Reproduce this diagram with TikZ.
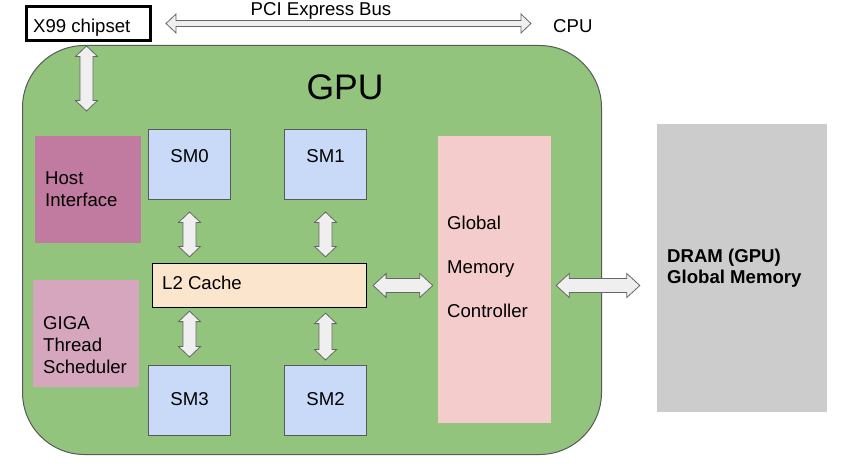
\documentclass[tikz,border=0pt]{standalone}
\usepackage{fontspec}
\setmainfont{Liberation Sans}
\usetikzlibrary{calc}
\definecolor{gpugreen}{HTML}{93C47D}
\definecolor{gpuline}{HTML}{595959}
\definecolor{hostc}{HTML}{C27BA0}
\definecolor{gigac}{HTML}{D5A6BD}
\definecolor{smc}{HTML}{C9DAF8}
\definecolor{l2c}{HTML}{FCE5CD}
\definecolor{gmcc}{HTML}{F4CCCC}
\definecolor{dramc}{HTML}{CCCCCC}
\definecolor{arrfill}{HTML}{EFEFEF}
\definecolor{arrline}{HTML}{666666}
\tikzset{
  txt/.style={font=\fontsize{18.6}{22}\selectfont, inner sep=0pt, text=black},
  plainbox/.style={rectangle, inner sep=0pt, draw=none},
  smbox/.style={plainbox, fill=smc, draw=gpuline, line width=1pt, minimum width=82, minimum height=70},
  blockarrow/.style n args={3}{fill=arrfill, draw=arrline, line width=0.8pt, line join=miter,
    to path={
      -- ($(\tikztostart)!#3!(\tikztotarget)!#1!90:(\tikztotarget)$)
      -- ($(\tikztostart)!#3!(\tikztotarget)!#2!90:(\tikztotarget)$)
      -- ($(\tikztotarget)!#3!(\tikztostart)!#2!-90:(\tikztostart)$)
      -- ($(\tikztotarget)!#3!(\tikztostart)!#1!-90:(\tikztostart)$)
      -- (\tikztotarget)
      -- ($(\tikztotarget)!#3!(\tikztostart)!#1!90:(\tikztostart)$)
      -- ($(\tikztotarget)!#3!(\tikztostart)!#2!90:(\tikztostart)$)
      -- ($(\tikztostart)!#3!(\tikztotarget)!#2!-90:(\tikztotarget)$)
      -- ($(\tikztostart)!#3!(\tikztotarget)!#1!-90:(\tikztotarget)$)
      -- cycle}},
  bigarrow/.style={blockarrow={11pt}{6.5pt}{10.5pt}},
  thinarrow/.style={blockarrow={9.5pt}{3pt}{10pt}}
}
\begin{document}
\begin{tikzpicture}[x=1pt,y=-1pt]
\useasboundingbox (0,0) rectangle (843,473);

% GPU body
\node[plainbox, fill=gpugreen, draw=gpuline, line width=1pt, rounded corners=62pt,
      minimum width=579, minimum height=409] (gpu) at (312,250) {};
\node[txt, font=\fontsize{35.5}{40}\selectfont, anchor=base] (gputxt) at (345,100) {GPU};

% top row
\node[plainbox, draw=black, line width=3pt, minimum width=124, minimum height=34] (x99) at (88.5,23.5) {};
\node[txt, anchor=base west] (x99t) at (33,33) {X99 chipset};
\node[txt, anchor=base] (pcit) at (321,16) {PCI Express Bus};
\node[txt, anchor=base west] (cpu) at (553,33) {CPU};

% left blocks
\node[plainbox, fill=hostc, minimum width=106, minimum height=107] (host) at (88,189.5) {};
\node[txt, anchor=north west, align=left] (hostt) at (45,172) {Host\\Interface};
\node[plainbox, fill=gigac, minimum width=106, minimum height=107] (giga) at (86,333.5) {};
\node[txt, anchor=north west, align=left] (gigat) at (43,316) {GIGA\\Thread\\Scheduler};

% SMs
\node[smbox] (sm0) at (189.5,164.5) {};
\node[smbox] (sm1) at (325.5,164.5) {};
\node[smbox] (sm3) at (189.5,400.5) {};
\node[smbox] (sm2) at (325.5,400.5) {};
\node[txt, anchor=base] (sm0t) at (189.5,163) {SM0};
\node[txt, anchor=base] (sm1t) at (325.5,163) {SM1};
\node[txt, anchor=base] (sm3t) at (189.5,405) {SM3};
\node[txt, anchor=base] (sm2t) at (325.5,405) {SM2};

% L2
\node[plainbox, fill=l2c, draw=black, line width=1.2pt, minimum width=214, minimum height=44] (l2) at (259.5,285.5) {};
\node[txt, anchor=base west] (l2t) at (162,289) {L2 Cache};

% Global memory controller
\node[plainbox, fill=gmcc, minimum width=113, minimum height=287] (gmc) at (494.5,279.5) {};
\node[txt, font=\fontsize{18.6}{44}\selectfont, anchor=north west, align=left] (gmct) at (447,216) {Global\\Memory\\Controller};

% DRAM
\node[plainbox, fill=dramc, minimum width=170, minimum height=288] (dram) at (742,268) {};
\node[txt, font=\fontsize{18.6}{21}\selectfont\bfseries, anchor=north west, align=left] (dramt) at (667,249) {DRAM (GPU)\\Global Memory};

% free ends
\coordinate (hostin) at (86.5,111);

% connectors
\draw[thinarrow] ($(x99.east)+(14,0)$) to ($(x99.east -| cpu.west)+(-22,0)$);
\draw[bigarrow] ($(x99.south)+(-2,4)$) to (hostin);
\draw[bigarrow] ($(sm0.south)+(0,12)$) to ($(sm0.south |- l2.north)+(0,-6)$);
\draw[bigarrow] ($(sm1.south)+(0,12)$) to ($(sm1.south |- l2.north)+(0,-6)$);
\draw[bigarrow] ($(sm3.north |- l2.south)+(0,3)$) to ($(sm3.north)+(0,-8)$);
\draw[bigarrow] ($(sm2.north |- l2.south)+(0,5)$) to ($(sm2.north)+(0,-5)$);
\draw[blockarrow={12pt}{7pt}{13pt}] ($(l2.east)+(6,0)$) to ($(l2.east -| gmc.west)+(-5,0)$);
\draw[blockarrow={12pt}{7pt}{13pt}] ($(gmc.east |- l2.east)+(5,0)$) to ($(dram.west |- l2.east)+(-17,0)$);
\end{tikzpicture}
\end{document}
